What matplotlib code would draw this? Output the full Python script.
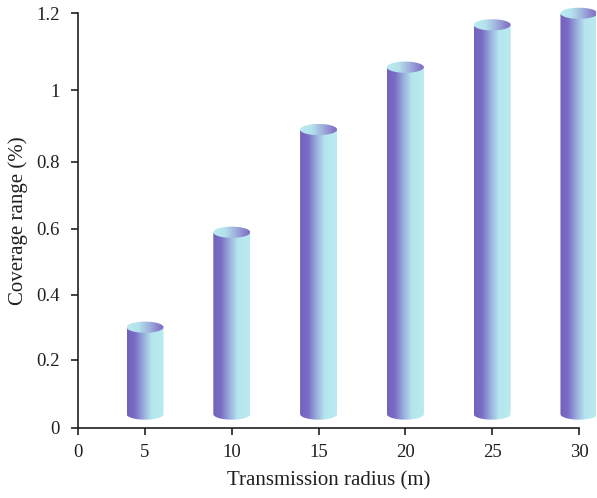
import numpy as np
import matplotlib
matplotlib.use("Agg")
import matplotlib.pyplot as plt
from matplotlib.colors import LinearSegmentedColormap
from matplotlib.patches import Polygon

plt.rcParams['font.family'] = ['Liberation Serif', 'DejaVu Serif']
plt.rcParams['font.size'] = 13.5

# data
radius = [5, 10, 15, 20, 25, 30]
coverage = [0.30, 0.59, 0.89, 1.06, 1.17, 1.20]
base = 0.04
xtick_labels = ['0', '5', '10', '15', '20', '25', '30']
yticks = [0, 0.2, 0.4, 0.6, 0.8, 1.0, 1.2]
ytick_labels = ['0', '0.2', '0.4', '0.6', '0.8', '1', '1.2']

# the value axis is drawn with slightly uneven tick spacing
ygrid = np.array(yticks)
ystep = np.array([0, 68, 133, 198.7, 266, 337.4, 414.4])


def _pw(v, src, dst):
    v = np.asarray(v, dtype=float)
    out = np.interp(v, src, dst)
    lo_slope = (dst[1] - dst[0]) / (src[1] - src[0])
    hi_slope = (dst[-1] - dst[-2]) / (src[-1] - src[-2])
    out = np.where(v < src[0], dst[0] + (v - src[0]) * lo_slope, out)
    out = np.where(v > src[-1], dst[-1] + (v - src[-1]) * hi_slope, out)
    return out


def fwd(v):
    return _pw(v, ygrid, ystep)


def inv(v):
    return _pw(v, ystep, ygrid)


body_cmap = LinearSegmentedColormap.from_list('body', [
    (0.0, '#7362BE'), (0.2, '#7A6DC5'), (0.45, '#9BB2DE'),
    (0.66, '#B5E6EE'), (1.0, '#B9EBF0')])
top_cmap = LinearSegmentedColormap.from_list('top', [
    (0.0, '#B9EBF0'), (0.3, '#B3E2EC'), (0.6, '#9FB0DC'),
    (0.85, '#8A80CC'), (1.0, '#7B6BC2')])

fig = plt.figure(figsize=(5.97, 4.98), dpi=100)
ax = fig.add_axes([0.1307, 0.1412, 0.9698 - 0.1307, 0.9733 - 0.1412])
ax.set_yscale('function', functions=(fwd, inv))

xlo, xhi = 1.14, 30
half_w = 1.066
rb = 5.6  # ellipse half height, in scaled units
theta = np.linspace(0, np.pi, 60)


def gradient(cmap, x0, x1, y0, y1, clip):
    grad = np.linspace(0, 1, 256).reshape(1, -1)
    im = ax.imshow(grad, cmap=cmap, extent=(x0, x1, y0, y1), aspect='auto',
                   origin='lower', interpolation='bilinear', zorder=3)
    im.set_clip_path(clip)
    im.set_clip_box(fig.bbox)


for r, v in zip(radius, coverage):
    x0, x1 = r - half_w, r + half_w
    sb = fwd(base)
    st = fwd(v)
    # body: left side down, front lower arc, right side up
    arc_x = r - half_w * np.cos(theta)
    arc_y = inv(sb - rb * np.sin(theta))
    pts = [(x0, v)] + list(zip(arc_x, arc_y)) + [(x1, v)]
    body = Polygon(pts, closed=True, facecolor='none', edgecolor='none',
                   transform=ax.transData, clip_on=False)
    ax.add_patch(body)
    gradient(body_cmap, x0, x1, float(inv(sb - rb - 1)), v, body)

    # top cap
    t2 = np.linspace(0, 2 * np.pi, 120)
    cap_x = r + half_w * np.cos(t2)
    cap_y = inv(st + rb * np.sin(t2))
    cap = Polygon(list(zip(cap_x, cap_y)), closed=True, facecolor='none',
                  edgecolor='none', transform=ax.transData, clip_on=False)
    ax.add_patch(cap)
    gradient(top_cmap, x0, x1, float(inv(st - rb - 1)),
             float(inv(st + rb + 1)), cap)

ax.set_xlim(xlo, xhi)
ax.set_ylim(0, 1.2)
ax.set_xticks([xlo] + radius)
ax.set_xticklabels(xtick_labels)
ax.set_yticks(yticks)
ax.set_yticklabels(ytick_labels)
ax.yaxis.set_minor_locator(matplotlib.ticker.NullLocator())

for s in ['top', 'right']:
    ax.spines[s].set_visible(False)
for s in ['left', 'bottom']:
    ax.spines[s].set_linewidth(1.2)
    ax.spines[s].set_color('#231F20')
ax.tick_params(direction='out', length=5, width=1.2, color='#231F20',
               labelcolor='#231F20')
ax.tick_params(axis='x', pad=7)
ax.tick_params(axis='y', pad=8)

ax.set_xlabel('Transmission radius (m)', color='#231F20', fontsize=15,
              labelpad=7)
ax.set_ylabel('Coverage range (%)', color='#231F20', fontsize=15,
              labelpad=6)

fig.savefig('out.png', dpi=100)
